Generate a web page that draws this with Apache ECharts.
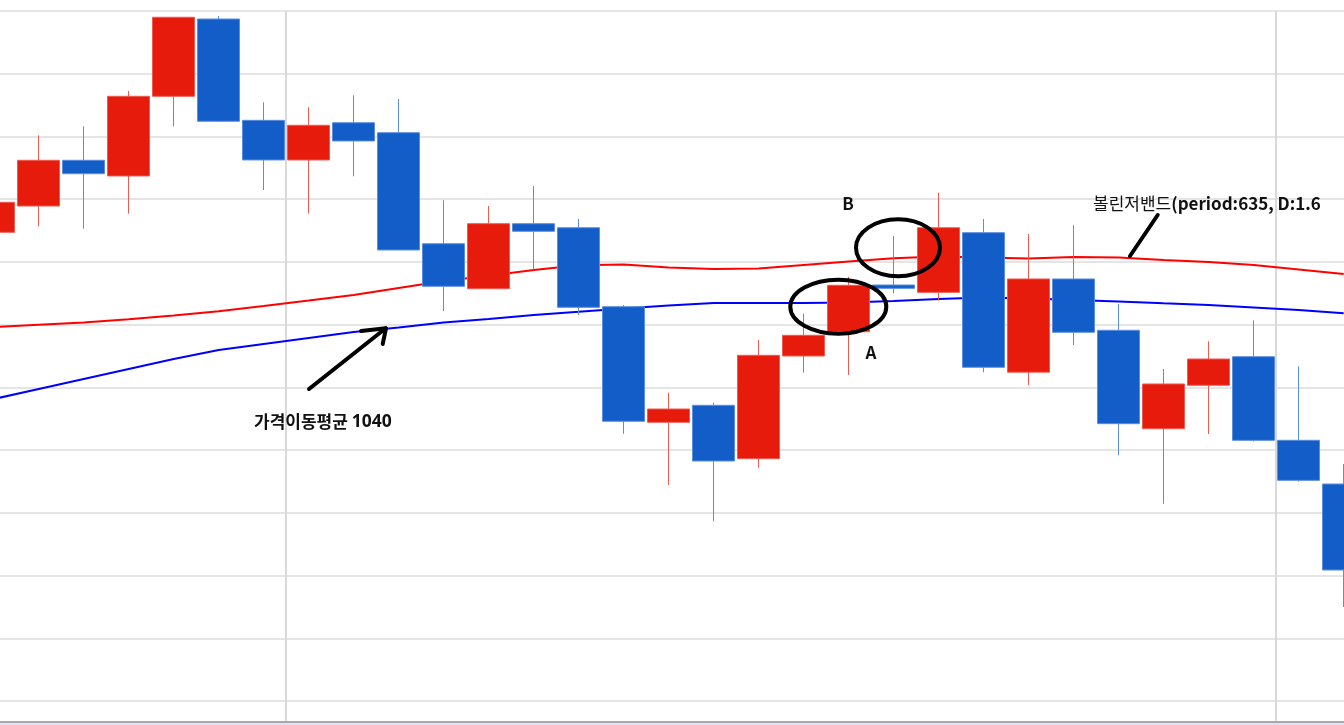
<!DOCTYPE html>
<html>
<head>
<meta charset="utf-8">
<script src="https://cdn.jsdelivr.net/npm/echarts@6/dist/echarts.min.js"></script>
<style>
html,body{margin:0;padding:0;background:#fff;}
#c{width:1344px;height:725px;}
</style>
</head>
<body>
<div id="c"></div>
<script>
// Categories (trading periods)
const categories = ['P01','P02','P03','P04','P05','P06','P07','P08','P09','P10','P11','P12','P13','P14','P15','P16','P17','P18','P19','P20','P21','P22','P23','P24','P25','P26','P27','P28','P29','P30','P31'];

// OHLC values: [open, close, low, high]
const candles = [
  [1074.72, 1079.50, 1073.49, 1081.46],
  [1078.91, 1086.20, 1075.68, 1090.18],
  [1086.20, 1084.06, 1075.29, 1091.62],
  [1083.70, 1096.40, 1077.69, 1097.25],
  [1096.40, 1109.00, 1091.62, 1109.00],
  [1108.72, 1092.42, 1092.31, 1109.20],
  [1092.57, 1086.25, 1081.46, 1095.45],
  [1086.25, 1091.78, 1077.69, 1094.65],
  [1092.19, 1089.28, 1083.65, 1096.56],
  [1090.60, 1071.90, 1071.90, 1095.97],
  [1072.90, 1066.11, 1062.17, 1079.82],
  [1065.73, 1076.09, 1065.73, 1078.91],
  [1076.09, 1074.88, 1068.82, 1082.10],
  [1075.45, 1062.76, 1061.54, 1076.84],
  [1062.86, 1044.59, 1042.61, 1063.13],
  [1044.43, 1046.55, 1034.43, 1049.15],
  [1047.14, 1038.26, 1028.65, 1047.56],
  [1038.63, 1055.11, 1037.19, 1057.55],
  [1055.00, 1058.30, 1052.34, 1061.74],
  [1058.87, 1066.27, 1051.97, 1067.64],
  [1066.32, 1065.79, 1065.00, 1074.13],
  [1065.15, 1075.45, 1063.82, 1081.03],
  [1074.66, 1053.20, 1052.40, 1076.84],
  [1052.42, 1067.28, 1050.35, 1074.45],
  [1067.28, 1058.78, 1056.75, 1075.84],
  [1059.10, 1044.21, 1039.17, 1063.29],
  [1043.41, 1050.54, 1031.45, 1052.93],
  [1050.33, 1054.52, 1042.57, 1057.34],
  [1054.89, 1041.56, 1041.34, 1060.69],
  [1041.56, 1035.18, 1034.96, 1053.36],
  [1034.59, 1020.88, 1014.99, 1037.78]
];

// Bollinger upper band (period 635, D 1.6)
const upperBand = [1059.62,1059.97,1060.34,1060.85,1061.46,1062.14,1062.97,1063.83,1064.72,1065.84,1066.96,1067.79,1068.71,1069.48,1069.59,1069.11,1068.87,1068.95,1069.51,1070.06,1070.58,1070.86,1070.70,1070.54,1070.78,1070.70,1070.30,1069.99,1069.51,1068.79,1068.07];

// Moving average 1040
const movingAvg = [1048.14,1049.74,1051.33,1052.93,1054.52,1055.96,1056.91,1057.87,1058.83,1059.54,1060.34,1060.90,1061.54,1062.05,1062.57,1063.05,1063.45,1063.45,1063.45,1063.53,1063.77,1064.09,1064.33,1064.17,1063.93,1063.69,1063.40,1063.13,1062.73,1062.33,1061.81];

const yMin = 990, yMax = 1110, yStep = 10;

const KFONT = '"Noto Sans CJK KR", "Noto Sans", sans-serif';

const chart = echarts.init(document.getElementById('c'), null, {renderer: 'canvas'});
chart.setOption({
  animation: false,
  backgroundColor: '#ffffff',
  grid: {left: -28.8, width: 1395, top: 11, height: 752.73, outerBoundsMode: 'none', containLabel: false},
  xAxis: {
    type: 'category',
    data: categories,
    boundaryGap: true,
    offset: -41.73,
    axisLine: {show: true, lineStyle: {color: '#A9A9A9', width: 2}},
    axisTick: {show: false},
    axisLabel: {show: false},
    splitLine: {
      show: true,
      interval: function (i) { return i === 7 || i === 29; },
      lineStyle: {color: '#D9D9D9', width: 2}
    }
  },
  yAxis: {
    type: 'value',
    min: yMin, max: yMax, interval: yStep,
    axisLine: {show: false},
    axisTick: {show: false},
    axisLabel: {show: false},
    splitLine: {show: true, lineStyle: {color: '#E5E5E5', width: 2}}
  },
  series: [
    {
      name: '볼린저밴드',
      type: 'line',
      data: upperBand,
      showSymbol: false,
      symbol: 'none',
      z: 2,
      lineStyle: {color: '#FF0000', width: 2},
      itemStyle: {color: '#FF0000'}
    },
    {
      name: '가격이동평균',
      type: 'line',
      data: movingAvg,
      showSymbol: false,
      symbol: 'none',
      z: 2,
      lineStyle: {color: '#0000FF', width: 2},
      itemStyle: {color: '#0000FF'}
    },
    {
      name: 'price',
      type: 'candlestick',
      data: candles,
      barWidth: 43,
      z: 5,
      itemStyle: {
        color: '#E61B0C',
        color0: '#135DC9',
        borderColor: '#F05A50',
        borderColor0: '#5A8EDF',
        borderWidth: 1
      }
    }
  ],
  graphic: [
    {type: 'rect', z: 100, shape: {x: 0, y: 723, width: 1344, height: 3}, style: {fill: '#DCE6F2'}},
    {type: 'ellipse', z: 100, shape: {cx: 838.3, cy: 306.7, rx: 48, ry: 27}, style: {fill: null, stroke: '#000', lineWidth: 4}},
    {type: 'ellipse', z: 100, shape: {cx: 898, cy: 247.8, rx: 42, ry: 28.5}, style: {fill: null, stroke: '#000', lineWidth: 4}},
    {type: 'polyline', z: 100, shape: {points: [[309, 389], [385.7, 328.3]]}, style: {stroke: '#000', lineWidth: 4, lineCap: 'round', fill: null}},
    {type: 'polyline', z: 100, shape: {points: [[361, 331], [386, 328.3], [382.7, 344]]}, style: {stroke: '#000', lineWidth: 4, lineCap: 'round', lineJoin: 'round', fill: null}},
    {type: 'polyline', z: 100, shape: {points: [[1130, 256], [1157.7, 215]]}, style: {stroke: '#000', lineWidth: 4, lineCap: 'round', fill: null}},
    {type: 'text', z: 100, style: {
      text: '{k|가격이동평균 }{d|1040}', x: 254, y: 422, textAlign: 'left', textVerticalAlign: 'middle',
      rich: {
        k: {font: 'bold 17px ' + KFONT, fill: '#111'},
        d: {font: 'bold 17.5px "Open Sans", ' + KFONT, fill: '#111'}
      }
    }},
    {type: 'text', z: 100, style: {text: 'B', x: 848, y: 204, font: 'bold 17px ' + KFONT, fill: '#111', textAlign: 'center', textVerticalAlign: 'middle'}},
    {type: 'text', z: 100, style: {text: 'A', x: 871, y: 352.5, font: 'bold 17px ' + KFONT, fill: '#111', textAlign: 'center', textVerticalAlign: 'middle'}},
    {type: 'text', z: 100, style: {
      text: '{k|볼린저밴드}{e|(period:635, D:1.6}',
      x: 1093, y: 204, textAlign: 'left', textVerticalAlign: 'middle',
      rich: {
        k: {font: '17px ' + KFONT, fill: '#111'},
        e: {font: 'bold 17px ' + KFONT, fill: '#111'}
      }
    }}
  ]
});
</script>
</body>
</html>
